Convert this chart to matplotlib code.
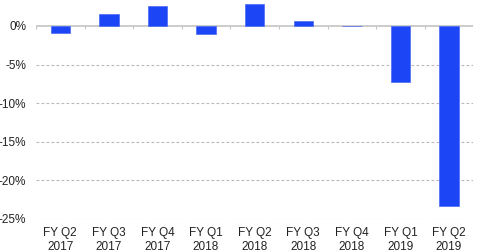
import numpy as np
import matplotlib.pyplot as plt
from matplotlib.ticker import FuncFormatter

# quarter labels and growth values (%)
quarters = ['FY Q2\n2017', 'FY Q3\n2017', 'FY Q4\n2017', 'FY Q1\n2018', 'FY Q2\n2018',
            'FY Q3\n2018', 'FY Q4\n2018', 'FY Q1\n2019', 'FY Q2\n2019']
values = [-0.87, 1.55, 2.55, -1.04, 2.85, 0.69, -0.05, -7.25, -23.3]
yticks = [0, -5, -10, -15, -20, -25]

plt.rcParams['font.family'] = ['Liberation Sans', 'DejaVu Sans']

fig = plt.figure(figsize=(4.8, 2.52), dpi=100)
ax = fig.add_axes([0.075, 0.132, 0.911, 0.868])

x = np.arange(len(quarters))
ax.bar(x, values, width=0.4, color='#1c45f6', edgecolor='#4a6af8', linewidth=0.5, zorder=3)

ax.set_xlim(-0.5, len(quarters) - 0.5)
ax.set_ylim(-25, 3.37)

# dashed grid for negative levels, solid line at zero
for v in yticks[1:]:
    ax.axhline(v, color='#b8b8b8', lw=0.8, ls=(0, (2.5, 2)), zorder=1)
ax.axhline(0, color='#c4c4c4', lw=1.2, zorder=2)

# little ticks on the zero line between categories
bounds = np.arange(len(quarters) + 1) - 0.5
ax.vlines(bounds, -0.4, 0, color='#c4c4c4', lw=0.8, zorder=2)

for s in ax.spines.values():
    s.set_visible(False)

ax.set_yticks(yticks)
ax.yaxis.set_major_formatter(FuncFormatter(lambda v, p: f'{int(v)}%'))
ax.tick_params(axis='y', length=0, pad=7, labelsize=8.5, labelcolor='#222222')
ax.set_xticks([])

for i, q in enumerate(quarters):
    ax.text(i, -0.04, q, transform=ax.get_xaxis_transform(), ha='center', va='top',
            fontsize=8.5, color='#222222', linespacing=1.15)

fig.savefig('out.png', dpi=100)
